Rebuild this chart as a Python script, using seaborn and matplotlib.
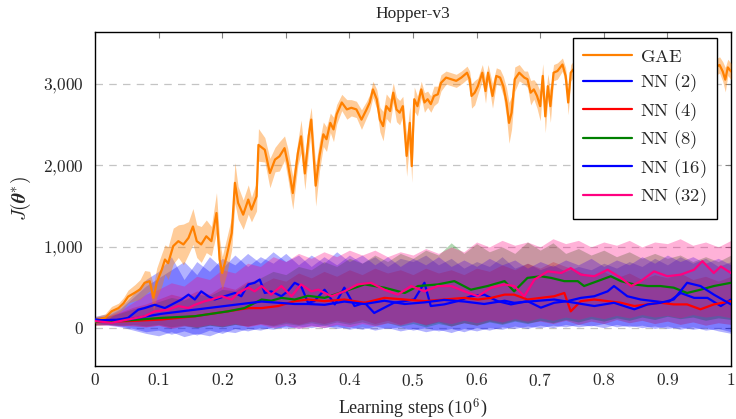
import numpy as np
import pandas as pd
import seaborn as sns
import matplotlib
matplotlib.use("Agg")
import matplotlib.pyplot as plt
from matplotlib.ticker import FixedLocator, FuncFormatter
from matplotlib.lines import Line2D

# ---------------- data ----------------
gae_x = [0.000, 0.016, 0.026, 0.037, 0.045, 0.052, 0.063, 0.071, 0.078, 0.086,
         0.092, 0.097, 0.105, 0.110, 0.115, 0.123, 0.131, 0.139, 0.147, 0.154,
         0.160, 0.167, 0.175, 0.183, 0.191, 0.196, 0.200, 0.207, 0.215, 0.220,
         0.225, 0.233, 0.241, 0.246, 0.254, 0.257, 0.267, 0.275, 0.283, 0.290,
         0.298, 0.303, 0.311, 0.319, 0.324, 0.330, 0.336, 0.340, 0.343, 0.347,
         0.353, 0.359, 0.364, 0.370, 0.375, 0.380, 0.388, 0.396, 0.403, 0.411,
         0.419, 0.427, 0.432, 0.437, 0.443, 0.448, 0.453, 0.458, 0.464, 0.469,
         0.474, 0.479, 0.484, 0.490, 0.495, 0.498, 0.502, 0.507, 0.513, 0.518,
         0.523, 0.528, 0.533, 0.539, 0.544, 0.552, 0.560, 0.568, 0.576, 0.585,
         0.589, 0.592, 0.597, 0.602, 0.609, 0.614, 0.618, 0.625, 0.631, 0.637,
         0.642, 0.647, 0.651, 0.655, 0.660, 0.667, 0.675, 0.680, 0.685, 0.690,
         0.695, 0.700, 0.704, 0.708, 0.712, 0.716, 0.721, 0.727, 0.735, 0.740,
         0.744, 0.748, 0.752, 0.770, 0.800, 0.830, 0.860, 0.890, 0.920, 0.950,
         0.975, 0.982, 0.987, 0.991, 0.995, 1.000]
gae_y = [100, 130, 210, 250, 310, 390, 440, 480, 560, 580,
         375, 560, 720, 845, 800, 1010, 1070, 1030, 1110, 1250,
         1070, 1030, 1130, 1070, 1415, 845, 680, 885, 1170, 1785,
         1540, 1395, 1580, 1457, 1620, 2250, 2190, 1905, 2070, 2110,
         2210, 2030, 1660, 2150, 2355, 1900, 2360, 2560, 2195, 1750,
         2115, 2380, 2320, 2520, 2440, 2625, 2770, 2685, 2705, 2685,
         2560, 2685, 2770, 2930, 2810, 2560, 2480, 2725, 2665, 2890,
         2685, 2645, 2725, 2115, 2520, 1990, 2810, 2725, 2930, 2770,
         2810, 2750, 2850, 2870, 3010, 3075, 3055, 3035, 3075, 3135,
         3055, 2850, 2890, 2970, 3135, 2910, 3135, 2850, 3095, 3075,
         2970, 2770, 2520, 2645, 3055, 3135, 3075, 3055, 2890, 2930,
         2850, 2725, 3095, 2600, 2970, 2725, 3135, 3155, 3235, 3095,
         2770, 3135, 3175, 3150, 3200, 3120, 3220, 3150, 3250, 3180,
         3200, 3230, 3150, 3050, 3200, 3150]
gae_sd = [40, 50, 60, 60, 70, 80, 100, 120, 150, 120,
          150, 180, 200, 180, 200, 220, 200, 250, 200, 220,
          200, 220, 200, 180, 250, 250, 200, 220, 200, 250,
          200, 180, 180, 150, 180, 200, 150, 180, 150, 180,
          150, 180, 200, 150, 200, 200, 180, 150, 200, 250,
          180, 150, 150, 120, 150, 120, 100, 120, 100, 100,
          120, 100, 100, 100, 120, 150, 180, 150, 150, 120,
          150, 150, 120, 250, 200, 200, 150, 120, 100, 120,
          100, 100, 120, 100, 100, 80, 80, 80, 80, 80,
          100, 150, 150, 100, 100, 150, 100, 150, 100, 100,
          120, 180, 250, 200, 150, 100, 80, 100, 150, 120,
          150, 180, 150, 200, 150, 200, 100, 100, 80, 100,
          150, 100, 100, 100, 100, 100, 100, 100, 100, 100,
          100, 100, 120, 150, 100, 100]

nn2_x = [0.000, 0.026, 0.052, 0.068, 0.078, 0.094, 0.110, 0.126, 0.136, 0.147,
         0.157, 0.167, 0.178, 0.188, 0.204, 0.220, 0.230, 0.241, 0.251, 0.259,
         0.267, 0.277, 0.293, 0.303, 0.314, 0.324, 0.335, 0.345, 0.361, 0.377,
         0.392, 0.408, 0.424, 0.439, 0.455, 0.470, 0.486, 0.502, 0.518, 0.528,
         0.549, 0.570, 0.591, 0.612, 0.633, 0.654, 0.680, 0.701, 0.722, 0.743,
         0.764, 0.785, 0.806, 0.816, 0.837, 0.858, 0.879, 0.900, 0.921, 0.942,
         0.963, 0.984, 1.000]
nn2_y = [110, 90, 130, 230, 250, 290, 250, 315, 355, 415,
         355, 455, 395, 355, 395, 435, 395, 540, 560, 600,
         435, 455, 395, 455, 560, 520, 315, 335, 475, 295,
         500, 275, 315, 190, 255, 315, 335, 355, 560, 275,
         295, 335, 395, 415, 335, 295, 335, 255, 315, 335,
         375, 395, 455, 520, 395, 355, 335, 315, 435, 375,
         375, 275, 355]

nn4_x = [0.000, 0.052, 0.105, 0.157, 0.209, 0.241, 0.262, 0.288, 0.314, 0.335,
         0.361, 0.392, 0.424, 0.455, 0.487, 0.518, 0.549, 0.581, 0.602, 0.623,
         0.644, 0.659, 0.680, 0.701, 0.722, 0.738, 0.748, 0.764, 0.785, 0.806,
         0.827, 0.848, 0.869, 0.889, 0.910, 0.931, 0.952, 0.973, 1.000]
nn4_y = [80, 90, 110, 150, 210, 250, 250, 275, 335, 355,
         335, 355, 315, 375, 355, 335, 355, 375, 355, 375,
         415, 415, 355, 375, 395, 435, 210, 335, 355, 335,
         315, 275, 295, 315, 295, 295, 235, 295, 335]

nn8_x = [0.000, 0.052, 0.105, 0.157, 0.209, 0.235, 0.262, 0.277, 0.293, 0.314,
         0.335, 0.361, 0.392, 0.424, 0.455, 0.487, 0.508, 0.539, 0.565, 0.591,
         0.617, 0.644, 0.659, 0.680, 0.701, 0.717, 0.738, 0.759, 0.769, 0.790,
         0.811, 0.827, 0.848, 0.869, 0.889, 0.910, 0.931, 0.952, 0.973, 1.000]
nn8_y = [80, 100, 130, 150, 210, 250, 355, 340, 375, 355,
         400, 375, 455, 540, 500, 435, 520, 540, 580, 475,
         520, 580, 455, 620, 640, 620, 580, 580, 520, 580,
         640, 580, 540, 520, 520, 500, 435, 475, 520, 560]

nn16_x = [0.000, 0.052, 0.105, 0.157, 0.209, 0.262, 0.314, 0.335, 0.361, 0.392,
          0.424, 0.455, 0.487, 0.518, 0.549, 0.581, 0.612, 0.644, 0.659, 0.690,
          0.722, 0.754, 0.785, 0.816, 0.848, 0.869, 0.889, 0.910, 0.931, 0.952,
          0.973, 1.000]
nn16_y = [100, 110, 180, 230, 280, 330, 300, 300, 290, 330,
          300, 340, 300, 320, 350, 330, 300, 340, 315, 335,
          355, 315, 275, 315, 235, 295, 315, 355, 560, 520,
          415, 295]

nn32_x = [0.000, 0.026, 0.052, 0.078, 0.094, 0.115, 0.131, 0.147, 0.157, 0.173,
          0.183, 0.199, 0.215, 0.225, 0.241, 0.251, 0.262, 0.277, 0.293, 0.309,
          0.324, 0.340, 0.351, 0.372, 0.392, 0.413, 0.434, 0.455, 0.476, 0.497,
          0.518, 0.539, 0.560, 0.581, 0.602, 0.623, 0.644, 0.659, 0.675, 0.691,
          0.712, 0.733, 0.748, 0.764, 0.785, 0.806, 0.827, 0.843, 0.858, 0.879,
          0.900, 0.921, 0.942, 0.955, 0.973, 0.984, 1.000]
nn32_y = [90, 70, 110, 150, 210, 230, 275, 250, 290, 335,
          355, 395, 355, 435, 500, 455, 520, 415, 520, 395,
          540, 455, 475, 395, 455, 540, 560, 475, 415, 520,
          455, 520, 520, 455, 395, 500, 540, 520, 395, 600,
          700, 680, 740, 660, 640, 720, 620, 520, 580, 700,
          640, 660, 720, 825, 680, 760, 680]

# shaded bands of the NN runs, on a 0.02 grid of learning steps
band_x = np.round(np.arange(51) * 0.02, 2)
nn2_lo = [50, 40, 20, -20, -60, -90, -40, -100, -60, -90,
          -30, -50, 0, -20, 20, 0, 30, 10, 40, 0,
          20, -10, 30, 0, 20, -20, 10, -30, 0, -40,
          10, -20, 20, 0, 30, 10, 40, 20, 50, 30,
          60, 20, 40, 10, 30, 0, 20, -10, 10, -30, -60]
nn2_hi = [150, 180, 260, 420, 600, 700, 880, 600, 820, 700,
          860, 780, 920, 800, 940, 820, 900, 760, 880, 780,
          900, 800, 880, 760, 860, 820, 900, 780, 860, 740,
          820, 760, 880, 740, 800, 720, 780, 700, 760, 720,
          800, 740, 820, 760, 860, 780, 880, 800, 860, 760, 820]
nn4_lo = [40, 50, 40, 30, 20, 40, 0, 30, 10, 40,
          20, 50, 30, 60, 40, 80, 50, 90, 60, 100,
          70, 110, 60, 100, 50, 90, 40, 80, 30, 70,
          40, 90, 60, 100, 70, 90, 60, 100, 50, 90,
          60, 110, 70, 100, 60, 90, 50, 80, 40, 70, 50]
nn4_hi = [130, 150, 200, 260, 300, 360, 420, 380, 460, 420,
          520, 480, 580, 540, 620, 580, 680, 620, 700, 640,
          720, 660, 740, 680, 720, 660, 740, 680, 720, 660,
          740, 700, 780, 720, 800, 740, 820, 760, 700, 640,
          700, 620, 680, 600, 660, 620, 680, 600, 640, 580, 640]
nn8_lo = [40, 50, 40, 50, 30, 50, 20, 40, 10, 40,
          20, 50, 30, 60, 30, 60, 40, 70, 40, 80,
          50, 80, 40, 70, 30, 60, 20, 60, 30, 70,
          40, 80, 50, 90, 60, 100, 70, 110, 80, 120,
          90, 130, 100, 140, 110, 150, 120, 140, 100, 130, 110]
nn8_hi = [130, 150, 190, 240, 280, 330, 380, 350, 420, 400,
          480, 460, 560, 620, 700, 660, 760, 720, 820, 760,
          860, 800, 900, 820, 920, 860, 960, 900, 1050, 920,
          1040, 940, 1000, 920, 1060, 960, 1050, 920, 980, 900,
          960, 880, 940, 860, 920, 860, 900, 820, 880, 820, 900]
nn16_lo = [60, 50, 30, 0, -40, -20, -70, -30, -80, -20,
           -60, 0, -30, 10, -10, 30, 0, 40, 10, 30,
           -10, 20, -20, 10, -30, 0, -40, -10, -50, 0,
           -30, 10, -10, 30, 0, 40, 10, 50, 20, 40,
           10, 50, 20, 40, 0, 30, -10, 20, -20, 0, -40]
nn16_hi = [140, 160, 240, 380, 520, 620, 720, 820, 660, 880,
           740, 900, 760, 880, 800, 920, 780, 900, 800, 940,
           820, 900, 780, 880, 760, 860, 780, 880, 760, 840,
           760, 860, 780, 840, 740, 820, 760, 840, 780, 860,
           760, 840, 780, 880, 800, 900, 820, 880, 800, 860, 780]
nn32_lo = [40, 40, 30, 40, 20, 40, 10, 40, 20, 50,
           30, 60, 20, 50, 10, 40, 0, 30, 10, 50,
           20, 60, 30, 70, 40, 80, 50, 90, 60, 100,
           70, 110, 80, 120, 90, 130, 100, 140, 110, 150,
           120, 160, 130, 170, 140, 160, 130, 170, 140, 160, 130]
nn32_hi = [130, 150, 220, 320, 420, 480, 560, 520, 640, 600,
           720, 680, 800, 760, 880, 820, 920, 860, 940, 880,
           960, 900, 960, 880, 940, 900, 980, 920, 1000, 940,
           1060, 1000, 1080, 1020, 1060, 1000, 1100, 1040, 1080, 1000,
           1060, 1020, 1080, 1000, 1060, 1040, 1100, 1020, 1060, 1000, 1080]

labels = ["GAE", "NN (2)", "NN (4)", "NN (8)", "NN (16)", "NN (32)"]
colors = ["#ff8000", "#0000ff", "#ff0000", "#008000", "#0000ff", "#ff0080"]
y_ticks = [0, 1000, 2000, 3000]
x_ticks = [0, 0.1, 0.2, 0.3, 0.4, 0.5, 0.6, 0.7, 0.8, 0.9, 1]

# ---------------- plotting ----------------
sns.set_style("white")
plt.rcParams["mathtext.fontset"] = "cm"
plt.rcParams["font.family"] = ["Liberation Serif", "DejaVu Serif"]

fig = plt.figure(figsize=(7.36, 4.19), dpi=100)
ax = fig.add_axes([95 / 736, 1 - 366 / 419, 636 / 736, (366 - 31.5) / 419])

series = [(nn2_x, nn2_y, nn2_lo, nn2_hi), (nn4_x, nn4_y, nn4_lo, nn4_hi),
          (nn8_x, nn8_y, nn8_lo, nn8_hi), (nn16_x, nn16_y, nn16_lo, nn16_hi),
          (nn32_x, nn32_y, nn32_lo, nn32_hi)]

# bands
for (sx, sy, lo, hi), c in zip(series, colors[1:]):
    ax.fill_between(band_x, lo, hi, color=c, alpha=0.3, lw=0, zorder=2)
gx = np.array(gae_x)
gy = np.array(gae_y)
gs = np.array(gae_sd)
ax.fill_between(gx, gy - gs, gy + gs, color=colors[0], alpha=0.4, lw=0, zorder=3)

# mean lines
sns.lineplot(x=gae_x, y=gae_y, color=colors[0], lw=1.6, ax=ax, zorder=4)
for (sx, sy, lo, hi), c in zip(series, colors[1:]):
    sns.lineplot(x=sx, y=sy, color=c, lw=1.6, ax=ax, zorder=5)

ax.set_xlim(0, 1)
ax.set_ylim(-460, 3640)

ax.yaxis.set_major_locator(FixedLocator(y_ticks))
ax.xaxis.set_major_locator(FixedLocator(x_ticks))
ax.yaxis.set_major_formatter(FuncFormatter(
    lambda v, p: "$" + f"{v:,.0f}".replace(",", "{,}") + "$"))
ax.xaxis.set_major_formatter(FuncFormatter(lambda v, p: f"${v:g}$"))
ax.tick_params(direction="in", top=True, right=True, length=4, width=0.8,
               color="#808080", labelsize=12.5)
ax.tick_params(axis="y", pad=8)
ax.tick_params(axis="x", pad=5)

ax.yaxis.grid(True, linestyle=(0, (6, 5)), color="#c4c4c4", lw=0.9)
ax.xaxis.grid(False)
ax.set_axisbelow(True)
for sp in ax.spines.values():
    sp.set_color("black")
    sp.set_linewidth(1.0)

ax.set_title("Hopper-v3", fontsize=12.5, pad=10)
ax.set_xlabel(r"Learning steps ($10^6$)", fontsize=13)
ax.set_ylabel(r"$J(\boldsymbol{\theta}^{*})$", fontsize=14)
ax.yaxis.set_label_coords(-0.097, 0.5)
ax.xaxis.set_label_coords(0.5, -0.092)

handles = [Line2D([0], [0], color=c, lw=1.6) for c in colors]
leg_labels = [r"$\mathrm{" + l.replace(" ", r"\ ") + "}$" for l in labels]
leg = ax.legend(handles, leg_labels, loc="upper right", bbox_to_anchor=(0.978, 0.98),
                borderaxespad=0, fontsize=13.4, frameon=True, fancybox=False,
                framealpha=1, edgecolor="black", handlelength=2.6,
                labelspacing=0.31, borderpad=0.56, handletextpad=0.45)
leg.get_frame().set_linewidth(1.0)
leg.set_zorder(10)

fig.savefig("out.png", dpi=100)
